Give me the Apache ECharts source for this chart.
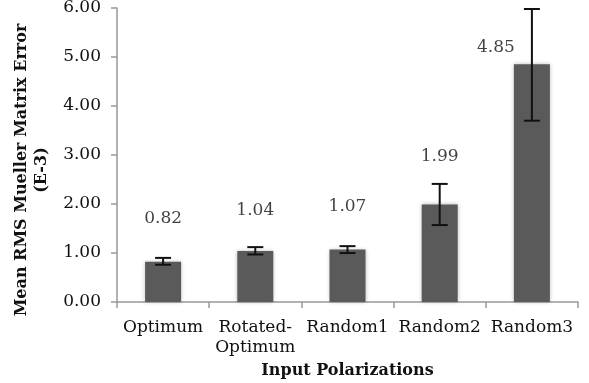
<!DOCTYPE html>
<html>
<head>
<meta charset="utf-8">
<script src="https://cdn.jsdelivr.net/npm/echarts@6/dist/echarts.min.js"></script>
<style>html,body{margin:0;padding:0;background:#fff;}#c{width:589px;height:383px;}</style>
</head>
<body>
<div id="c"></div>
<script>
var categories = ['Optimum', 'Rotated-\nOptimum', 'Random1', 'Random2', 'Random3'];
var values = [0.82, 1.04, 1.07, 1.99, 4.85];
var errLow = [0.76, 0.97, 1.00, 1.57, 3.70];
var errHigh = [0.90, 1.12, 1.14, 2.41, 5.98];
var labelY = [1.70, 1.86, 1.94, 2.96, 5.20];
var yTicks = ['0.00', '1.00', '2.00', '3.00', '4.00', '5.00', '6.00'];

var chart = echarts.init(document.getElementById('c'), null, {renderer: 'canvas'});
var serif = 'DejaVu Serif';
chart.setOption({
  animation: false,
  grid: {left: 117, right: 11, top: 8, bottom: 81, containLabel: false, outerBoundsMode: 'none'},
  xAxis: {
    type: 'category',
    data: categories,
    name: 'Input Polarizations',
    nameLocation: 'middle',
    nameGap: 58,
    nameTextStyle: {fontFamily: serif, fontSize: 16, fontWeight: 'bold', color: '#111'},
    axisLine: {lineStyle: {color: '#999', width: 1.5}},
    axisTick: {show: true, alignWithLabel: false, length: 6, lineStyle: {color: '#999', width: 1.5}},
    axisLabel: {fontFamily: serif, fontSize: 17, color: '#111', margin: 16, lineHeight: 20, interval: 0}
  },
  yAxis: {
    type: 'value',
    min: 0, max: 6, interval: 1,
    name: 'Mean RMS Mueller Matrix Error\n(E-3)',
    nameLocation: 'middle',
    nameGap: 64,
    nameTextStyle: {fontFamily: serif, fontSize: 16, fontWeight: 'bold', color: '#111', lineHeight: 20,
      padding: [0, 30, 0, 0]},
    axisLine: {show: true, lineStyle: {color: '#999', width: 1.5}},
    axisTick: {show: true, length: 6, lineStyle: {color: '#999', width: 1.5}},
    splitLine: {show: false},
    axisLabel: {fontFamily: serif, fontSize: 17, color: '#111', margin: 16,
      formatter: function (v) { return yTicks[Math.round(v)]; }}
  },
  series: [
    {
      type: 'bar',
      data: values,
      barWidth: 36,
      itemStyle: {color: '#5a5a5a', shadowColor: 'rgba(0,0,0,0.25)', shadowBlur: 4}
    },
    {
      type: 'custom',
      data: categories.map(function (c, i) { return [i, errLow[i], errHigh[i]]; }),
      z: 10,
      renderItem: function (params, api) {
        var lo = api.coord([api.value(0), api.value(1)]);
        var hi = api.coord([api.value(0), api.value(2)]);
        var hw = 8;
        var st = {stroke: '#111', lineWidth: 2};
        return {type: 'group', children: [
          {type: 'line', shape: {x1: hi[0], y1: hi[1], x2: lo[0], y2: lo[1]}, style: st},
          {type: 'line', shape: {x1: hi[0] - hw, y1: hi[1], x2: hi[0] + hw, y2: hi[1]}, style: st},
          {type: 'line', shape: {x1: lo[0] - hw, y1: lo[1], x2: lo[0] + hw, y2: lo[1]}, style: st}
        ]};
      }
    },
    {
      type: 'scatter',
      symbolSize: 0,
      data: categories.map(function (c, i) {
        return {value: [i, labelY[i]], label: {offset: i === 4 ? [-36, 0] : [0, 0]}};
      }),
      label: {show: true, position: 'inside', fontFamily: serif, fontSize: 17, color: '#111',
        formatter: function (p) { return values[p.dataIndex].toFixed(2); }}
    }
  ]
});
</script>
</body>
</html>
